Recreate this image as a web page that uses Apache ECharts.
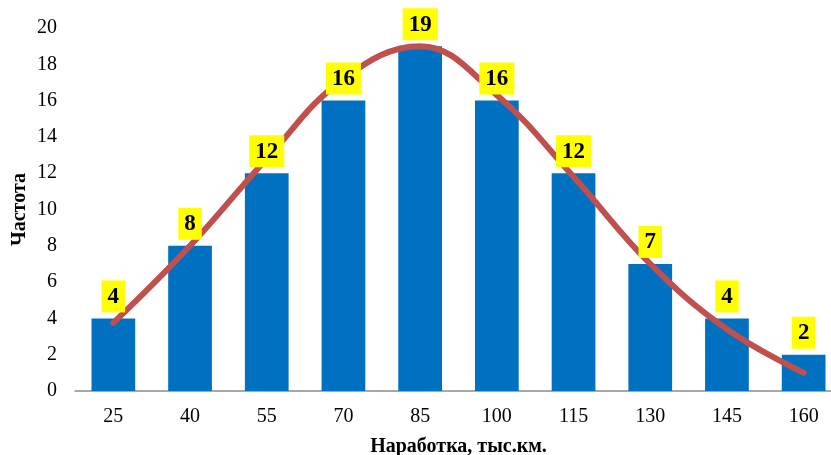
<!DOCTYPE html>
<html><head><meta charset="utf-8">
<script src="https://cdn.jsdelivr.net/npm/echarts@6/dist/echarts.min.js"></script>
<style>html,body{margin:0;padding:0;background:#fff}#c{width:831px;height:455px}</style>
</head><body><div id="c"></div>
<script>
var categories = ['25','40','55','70','85','100','115','130','145','160'];
var frequency = [4, 8, 12, 16, 19, 16, 12, 7, 4, 2];
var fitCurve = [3.75, 8.0, 12.8, 17.2, 19.0, 16.3, 11.8, 7.0, 3.4, 1.0];
var yTicks = {min: 0, max: 20, interval: 2};

var font = '"Liberation Serif", "Times New Roman", serif';
var chart = echarts.init(document.getElementById('c'));
chart.setOption({
  animation: false,
  grid: {left: 75, top: 28, width: 767, height: 363, outerBoundsMode: 'none', containLabel: false},
  xAxis: {
    type: 'category', data: categories,
    axisLine: {lineStyle: {color: '#8c8c8c', width: 1.5}},
    axisTick: {show: false},
    axisLabel: {color: '#000', fontFamily: font, fontSize: 20, margin: 16},
    name: 'Наработка, тыс.км.', nameLocation: 'middle', nameGap: 46,
    nameTextStyle: {color: '#000', fontFamily: font, fontSize: 20, fontWeight: 'bold'}
  },
  yAxis: {
    type: 'value', min: yTicks.min, max: yTicks.max, interval: yTicks.interval,
    splitLine: {show: false}, axisLine: {show: false}, axisTick: {show: false},
    axisLabel: {color: '#000', fontFamily: font, fontSize: 20, margin: 18},
    name: 'Частота', nameLocation: 'middle', nameGap: 45, nameRotate: 90, nameMoveOverlap: false,
    nameTextStyle: {color: '#000', fontFamily: font, fontSize: 20, fontWeight: 'bold'}
  },
  series: [
    {type: 'bar', data: frequency, barWidth: '57%', itemStyle: {color: '#0070C0'}, z: 1},
    {type: 'line', data: fitCurve, smooth: 0.4, symbol: 'none', z: 3,
     lineStyle: {color: '#C0504D', width: 6, cap: 'round'}},
    {type: 'bar', data: frequency, barWidth: '57%', barGap: '-100%', z: 5,
     itemStyle: {color: 'rgba(0,0,0,0)'}, silent: true,
     label: {show: true, position: 'top', distance: 6, color: '#000', fontFamily: font,
             fontSize: 23, fontWeight: 'bold', backgroundColor: '#FFFF00', padding: [5, 6, 4, 6]}}
  ]
});
</script></body></html>
